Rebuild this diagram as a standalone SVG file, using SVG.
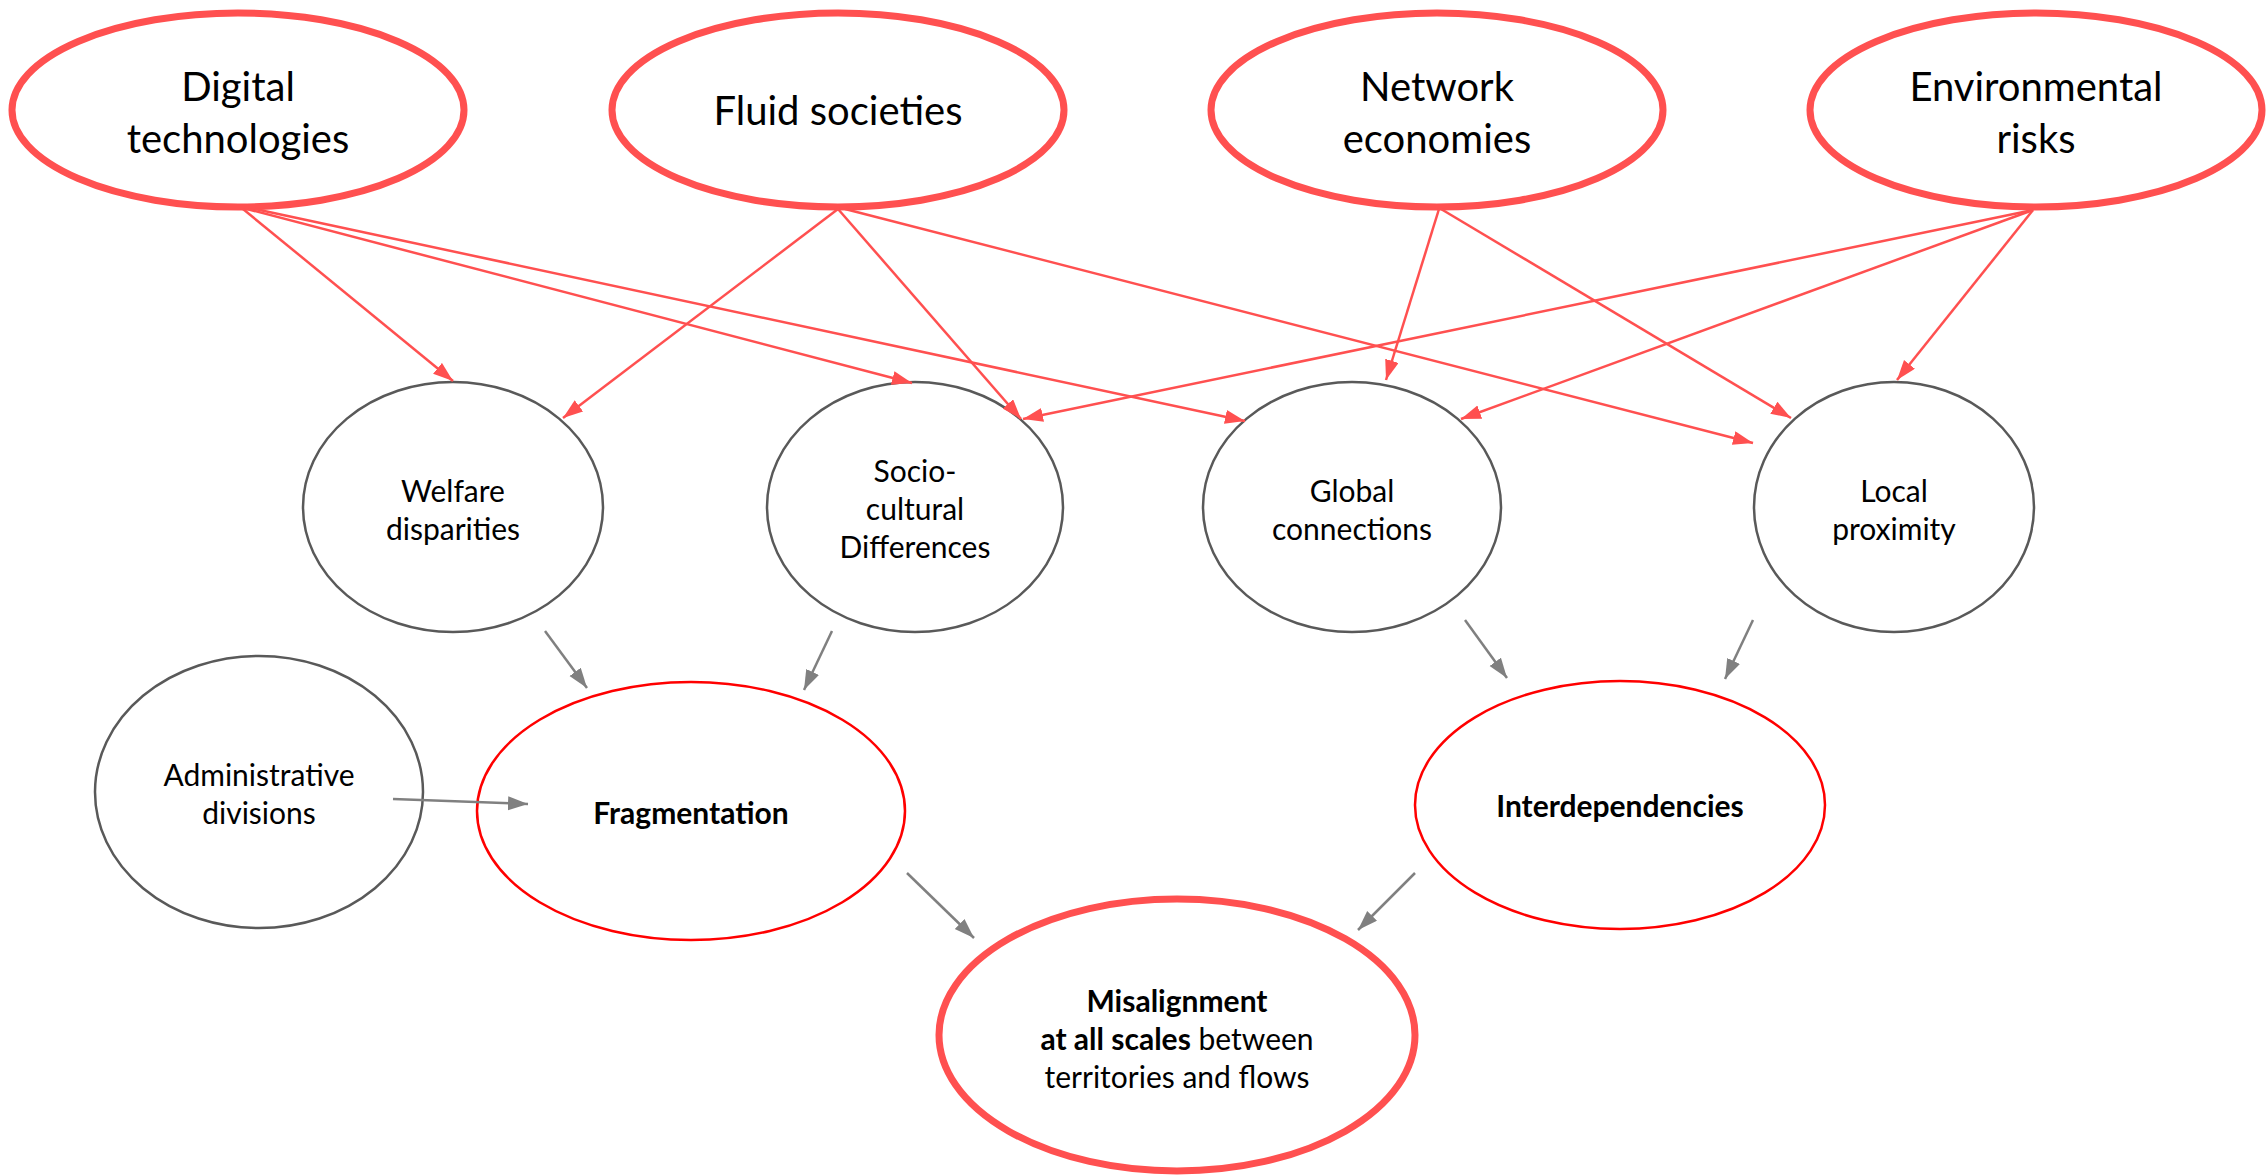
<svg xmlns="http://www.w3.org/2000/svg" width="2266" height="1176" viewBox="0 0 2266 1176">
<style>
text{font-family:Lato,"Open Sans","Liberation Sans",sans-serif;fill:#000;text-anchor:middle}
.t1{font-size:40px}
.t2{font-size:30px}
.b{font-weight:bold}
.top{fill:#fff;stroke:#FF5050;stroke-width:7}
.mid{fill:#fff;stroke:#595959;stroke-width:2.5}
.key{fill:#fff;stroke:#FF0000;stroke-width:2.5}
.ra{stroke:#FF5050;stroke-width:2.5;fill:none;marker-end:url(#rh)}
.ga{stroke:#808080;stroke-width:2.5;fill:none;marker-end:url(#gh)}
</style>
<defs>
<marker id="rh" markerUnits="userSpaceOnUse" markerWidth="22" markerHeight="16" refX="20" refY="7" orient="auto"><path d="M0,0 L20,7 L0,14 z" fill="#FF5050"/></marker>
<marker id="gh" markerUnits="userSpaceOnUse" markerWidth="22" markerHeight="16" refX="20" refY="7" orient="auto"><path d="M0,0 L20,7 L0,14 z" fill="#808080"/></marker>
</defs>
<rect width="2266" height="1176" fill="#fff"/>
<g id="n-digital"><ellipse class="top" cx="238" cy="110" rx="226" ry="97"/><text class="t1" x="238" y="101">Digital</text><text class="t1" x="238" y="153">technologies</text></g>
<g id="n-fluid"><ellipse class="top" cx="838" cy="110" rx="226" ry="97"/><text class="t1" x="838" y="125">Fluid societies</text></g>
<g id="n-network"><ellipse class="top" cx="1437" cy="110" rx="226" ry="97"/><text class="t1" x="1437" y="101">Network</text><text class="t1" x="1437" y="153">economies</text></g>
<g id="n-env"><ellipse class="top" cx="2036" cy="110" rx="226" ry="97"/><text class="t1" x="2036" y="101">Environmental</text><text class="t1" x="2036" y="153">risks</text></g>
<g id="n-welfare"><ellipse class="mid" cx="453" cy="507" rx="150" ry="125"/><text class="t2" x="453" y="502">Welfare</text><text class="t2" x="453" y="540">disparities</text></g>
<g id="n-socio"><ellipse class="mid" cx="915" cy="507" rx="148" ry="125"/><text class="t2" x="915" y="482">Socio-</text><text class="t2" x="915" y="520">cultural</text><text class="t2" x="915" y="558">Differences</text></g>
<g id="n-global"><ellipse class="mid" cx="1352" cy="507" rx="149" ry="125"/><text class="t2" x="1352" y="502">Global</text><text class="t2" x="1352" y="540">connections</text></g>
<g id="n-local"><ellipse class="mid" cx="1894" cy="507" rx="140" ry="125"/><text class="t2" x="1894" y="502">Local</text><text class="t2" x="1894" y="540">proximity</text></g>
<g id="n-admin"><ellipse class="mid" cx="259" cy="792" rx="164" ry="136"/><text class="t2" x="259" y="786">Administrative</text><text class="t2" x="259" y="824">divisions</text></g>
<g id="n-frag"><ellipse class="key" cx="691" cy="811" rx="214" ry="129"/><text class="t2 b" x="691" y="824">Fragmentation</text></g>
<g id="n-interdep"><ellipse class="key" cx="1620" cy="805" rx="205" ry="124"/><text class="t2 b" x="1620" y="817">Interdependencies</text></g>
<g id="n-misalign"><ellipse class="top" cx="1177" cy="1035" rx="238" ry="136"/><text class="t2 b" x="1177" y="1012">Misalignment</text><text class="t2" x="1177" y="1050"><tspan class="b">at all scales</tspan> between</text><text class="t2" x="1177" y="1088">territories and flows</text></g>
<g id="connectors">
<line class="ra" x1="243" y1="209" x2="453" y2="381"/>
<line class="ra" x1="247" y1="209" x2="912" y2="383"/>
<line class="ra" x1="255" y1="209" x2="1245" y2="421"/>
<line class="ra" x1="838" y1="209" x2="563" y2="418"/>
<line class="ra" x1="838" y1="209" x2="1021" y2="419"/>
<line class="ra" x1="845" y1="209" x2="1753" y2="443"/>
<line class="ra" x1="1439" y1="209" x2="1386" y2="380"/>
<line class="ra" x1="1441" y1="209" x2="1791" y2="418"/>
<line class="ra" x1="2033" y1="210" x2="1023" y2="419"/>
<line class="ra" x1="2033" y1="210" x2="1461" y2="419"/>
<line class="ra" x1="2033" y1="210" x2="1897" y2="380"/>
<line class="ga" x1="545" y1="631" x2="587" y2="688"/>
<line class="ga" x1="832" y1="631" x2="804" y2="690"/>
<line class="ga" x1="393" y1="799" x2="528" y2="804"/>
<line class="ga" x1="1465" y1="620" x2="1507" y2="678"/>
<line class="ga" x1="1753" y1="620" x2="1725" y2="679"/>
<line class="ga" x1="907" y1="873" x2="974" y2="938"/>
<line class="ga" x1="1415" y1="873" x2="1358" y2="930"/>
</g>
</svg>
